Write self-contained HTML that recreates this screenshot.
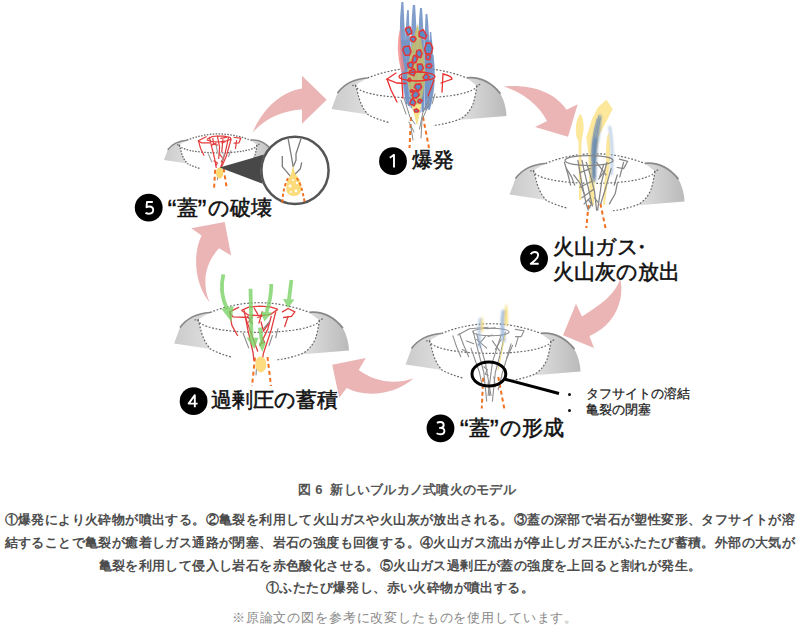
<!DOCTYPE html>
<html lang="ja"><head><meta charset="utf-8">
<style>
html,body{margin:0;padding:0;background:#fff;width:800px;height:626px;overflow:hidden;}
body{position:relative;font-family:"Liberation Sans",sans-serif;}
svg{position:absolute;left:0;top:0;}
.t{position:absolute;white-space:nowrap;}
#cap{left:7px;width:800px;text-align:center;top:481px;font-size:13px;font-weight:bold;color:#555;letter-spacing:0.25px;}
.p{left:0;width:800px;text-align:center;font-size:13px;font-weight:bold;color:#4d4d4d;letter-spacing:0.4px;}
#note{left:5px;width:800px;text-align:center;top:609px;font-size:13px;color:#888;letter-spacing:0.85px;}
.lab{font-size:21px;color:#111;line-height:25px;-webkit-text-stroke:0.55px #111;}
.qa,.qb{display:inline-block;height:25px;vertical-align:top;font-size:27px;line-height:31px;-webkit-text-stroke:0.3px #111;}.qa{width:14.5px;text-align:right;}.qb{width:10px;text-align:left;}
.num{position:absolute;width:27px;height:27px;border-radius:50%;background:#000;color:#fff;font-size:17px;line-height:27px;text-align:center;}
.bul{font-size:13px;color:#1a1a1a;line-height:16px;-webkit-text-stroke:0.25px #1a1a1a;}
</style></head><body>
<svg width="800" height="470" viewBox="0 0 800 470">
<defs>
<filter id="bl" x="-50%" y="-20%" width="200%" height="140%"><feGaussianBlur stdDeviation="0.8"/></filter>
<linearGradient id="gl" x1="0" x2="1" y1="0" y2="0">
<stop offset="0" stop-color="#cbcbcb"/><stop offset="1" stop-color="#dedede"/></linearGradient>
<linearGradient id="gr" x1="0" x2="1" y1="0" y2="0">
<stop offset="0" stop-color="#e2e2e2"/><stop offset="1" stop-color="#bababa"/></linearGradient>
<g id="vol">
<path d="M10.6,63 L16.5,47 C22,39.5 32,33 46.5,32 L34.5,39 Q36.5,46 38,52 Q41,62 47,68.5 Z" fill="url(#gl)"/>
<path d="M16.5,47 C22,39.5 32,33 46.5,32" fill="none" stroke="#888" style="stroke-width:var(--rw,1.7)"/>
<path d="M145.8,31.9 Q165,30 179.4,47.6 Q185,58 185.5,70 L136.5,74 Q147,70 152,58 Q154.5,50 155.9,39.7 Z" fill="url(#gr)"/>
<path d="M145.8,31.9 Q165,30 179.4,47.6" fill="none" stroke="#888" style="stroke-width:var(--rw,1.7)"/>
<g fill="none" stroke="#666" style="stroke-width:var(--dw,1.2);stroke-dasharray:var(--da,1.8 1.7)">
<path d="M46.5,32 Q95,12.5 145.8,31.9"/>
<path d="M31,39.5 L34.5,39 A60.7,12.5 0 0 0 155.9,39.7 L160,38"/>
<path d="M34.5,39 Q36.5,46 38,52 Q41,62 47,68.5 Q56,73.5 68,76.5"/>
<path d="M155.9,39.7 Q154.5,50 152,58 Q147,70 136.5,74 Q125,78 112,79.5"/>
</g>
</g>
</defs>
<!-- arrows -->
<g fill="#ebb5b6">
<path d="M252.5,132.7 C262,110 280,92 302,88.5 L302,75.7 L326.7,99.7 L302,123.7 L302,109.5 C285,110 265,118 252.5,132.7 Z"/>
<path d="M503.5,86.5 C530,84 555,92 566.5,109.7 L577.7,104.2 L568,136.7 L535,127 L547,121 C538,104 522,92 503.5,86.5 Z"/>
<path d="M620.2,279 C625,300 615,325 589.5,336 L594,348 L563,335.2 L576,303.7 L582,316.5 C600,305 615,295 620.2,279 Z"/>
<path d="M413.5,378.2 C395,385 375,382 358.7,370 L365.8,358 L332.2,364.7 L339.2,397.7 L346.7,388 C365,398 395,395 413.5,378.2 Z"/>
<path d="M209.7,302.6 C195,285 192,255 201.6,235.5 L191.2,228.3 L224.7,222 L231.1,255.5 L219.1,248.3 C206,262 201,282 209.7,302.6 Z"/>
</g>
<!-- volcanoes -->
<use href="#vol" transform="translate(321,46)"/>
<use href="#vol" transform="translate(499,131.5)"/>
<use href="#vol" transform="translate(395,301.5)"/>
<use href="#vol" transform="translate(163.5,280.5)"/>
<use href="#vol" transform="translate(157.2,119.7) scale(0.64)" style="--dw:2;--da:2.4 2.2;--rw:2.4"/>
<!-- conduits -->
<g fill="none" stroke="#f07020" stroke-width="2" stroke-dasharray="4 3">
<path d="M411,117 L409.5,148"/><path d="M423,117 L429,148"/>
<path d="M588.5,205 L586.3,228"/><path d="M600.4,203.7 L605.5,228"/>
<path d="M483.2,377.7 L481.75,408.5"/><path d="M498.25,377 L504.25,408.5"/>
<path d="M255,357.7 L252,386"/><path d="M267.5,357 L271,386"/>
<path d="M215.2,169.7 L214,189.3"/><path d="M223.6,168.5 L226.9,189.3"/>
</g>
<!-- V1 plume -->
<g>

<path d="M401,40 Q398,70 406,104 L418,114 L430,108 Q436,75 432,40 Z" fill="#7296c8" opacity="0.55"/>
<g fill="#6a8dc2" opacity="0.85">
<path d="M401.4,2.0 L403.4,2.0 Q405.4,45.0 407.8,104.0 L406.2,104.0 Q396.6,45.0 401.4,2.0 Z"/>
<path d="M407.2,10.0 L408.8,10.0 Q409.9,45.0 412.8,108.0 L411.2,108.0 Q403.1,45.0 407.2,10.0 Z"/>
<path d="M412.9,5.0 L415.1,5.0 Q417.7,45.0 418.8,112.0 L417.2,112.0 Q408.3,45.0 412.9,5.0 Z"/>
<path d="M420.0,8.0 L422.0,8.0 Q424.9,45.0 423.8,112.0 L422.2,112.0 Q416.1,45.0 420.0,8.0 Z"/>
<path d="M425.6,14.0 L427.4,14.0 Q431.4,50.0 426.8,110.0 L425.2,110.0 Q423.6,50.0 425.6,14.0 Z"/>
<path d="M429.8,32.0 L431.2,32.0 Q435.1,65.0 428.8,108.0 L427.2,108.0 Q428.9,65.0 429.8,32.0 Z"/>
<path d="M432.5,55.0 L433.5,55.0 Q437.3,85.0 429.8,110.0 L428.2,110.0 Q432.7,85.0 432.5,55.0 Z"/>
<path d="M404.4,30.0 L405.6,30.0 Q406.6,70.0 409.8,106.0 L408.2,106.0 Q401.4,70.0 404.4,30.0 Z"/>
</g>
<path d="M417.5,24 Q408,55 407,80 L417,125 L425.5,80 Q425,50 417.5,24 Z" fill="#c3bd6e" opacity="0.88"/>
<path d="M400.5,27 Q394.5,48 401.5,72 L405,71 Q400.5,48 400.5,27Z" fill="#f28a8a" opacity="0.8"/>
<path d="M411.5,105 L417,125 L421.5,104 Z" fill="#f7e48a"/>
<path d="M413,80.5 L421,81" stroke="#ee8a30" stroke-width="1.3"/>
<g fill="#5b8cc8" stroke="#e0383a" stroke-width="1.6" stroke-linejoin="round">
<path d="M411.8,32.0 L411.4,33.8 L407.7,34.9 L405.5,29.7 L406.1,28.0 L409.8,26.9 Z"/>
<path d="M426.7,35.7 L425.2,38.9 L419.1,36.2 L419.2,31.9 L423.1,29.6 Z"/>
<path d="M416.0,38.9 L414.4,41.7 L411.4,41.2 L410.3,39.0 L410.8,37.0 L414.6,36.6 Z"/>
<path d="M410.9,51.6 L409.4,55.2 L405.1,55.3 L402.7,49.8 L404.2,46.8 L409.2,46.0 Z"/>
<path d="M432.7,48.1 L431.1,53.6 L425.8,53.7 L424.6,49.2 L426.5,42.9 L430.6,43.3 Z"/>
<path d="M422.0,53.3 L420.8,57.5 L418.6,57.3 L416.2,54.4 L416.9,50.8 L420.3,49.8 Z"/>
<path d="M417.5,58.7 L415.7,62.6 L413.4,62.6 L412.2,60.3 L413.8,55.8 L415.7,55.6 Z"/>
<path d="M430.4,56.2 L429.4,59.8 L426.5,59.3 L425.9,57.4 L426.7,54.4 L429.8,55.2 Z"/>
<path d="M413.3,64.1 L412.2,68.0 L408.5,67.5 L407.6,63.7 L411.4,61.9 Z"/>
<path d="M423.5,68.0 L420.8,71.7 L417.7,71.1 L417.4,64.2 L421.7,64.0 Z"/>
<path d="M431.9,65.8 L430.5,67.8 L426.8,67.5 L426.1,66.6 L426.9,64.3 L430.7,63.8 Z"/>
<path d="M415.6,71.5 L413.9,75.8 L409.1,73.6 L409.9,70.7 L413.7,68.7 Z"/>
<path d="M429.1,77.0 L428.4,79.0 L424.7,80.0 L423.0,77.6 L425.3,74.1 L427.0,74.2 Z"/>
<path d="M411.1,80.3 L409.8,81.5 L407.9,80.7 L408.5,78.7 L409.7,78.2 Z"/>
<path d="M421.6,87.3 L419.2,90.6 L417.0,90.1 L414.2,87.3 L415.7,84.4 L420.5,83.9 Z"/>
<path d="M413.3,91.0 L412.6,92.3 L411.0,92.1 L410.4,91.2 L411.0,90.1 L412.7,89.8 Z"/>
<path d="M419.4,94.8 L416.5,97.9 L413.3,97.6 L412.0,95.5 L414.6,90.8 L417.7,91.8 Z"/>
<path d="M415.5,102.3 L414.3,105.7 L409.9,104.1 L410.7,100.3 L412.7,98.6 Z"/>
<path d="M422.2,100.5 L420.2,102.9 L417.9,101.9 L418.5,99.7 L420.6,99.3 Z"/>
<path d="M418.9,110.9 L417.9,112.0 L414.8,112.0 L414.2,109.7 L416.5,108.9 Z"/>
</g>
<g fill="none" stroke="#e8302f" stroke-width="1.3" stroke-linecap="round">
<ellipse cx="417" cy="76.5" rx="18" ry="4.5"/>
<path d="M396,73 L387,79 L397,83 L406,83.5"/>
<path d="M387,79 L391,90 L397,102"/>
<path d="M401.5,76 L403,98"/>
<path d="M434,80 L428,96"/>
<path d="M443,74 Q452,76 452,79 L441,83"/>
<path d="M443,74 L442,92"/>
</g>
<g fill="none" stroke="#8a8a8a" stroke-width="1" stroke-linecap="round">
<path d="M401,100 L406,114"/><path d="M404,98 L410,117 L415,124"/>
<path d="M409,122 L414,132"/><path d="M411,128 L413,140"/>
<path d="M430,98 L423,112 L419.5,129"/><path d="M429,104 L422,120 L421,138"/>
<path d="M435,94 L432,104"/>
</g>
</g>
<!-- V2 cracks + plume -->
<g fill="#fce79b">
<path d="M580.5,113.7 Q584,118 583.6,130 Q582.5,136 581.5,142 L581.5,200 L579,200 L578.5,142 Q575.5,136 575.8,130 Q576,118 580.5,113.7 Z"/>
<path d="M606.4,99.8 L612.7,108.9 L598.8,136.2 L596,160 L594,205 L590,205 L588.2,152.5 L586.3,137.2 L592,119 L597.8,107.5 Z"/>
<path d="M608.4,131.9 Q611,140 610,160 L605,205 L603,205 L606,160 Q605.5,140 608.4,131.9 Z"/>
</g>
<g filter="url(#bl)">
<path d="M599.5,114 Q594,128 591.5,145 Q590.5,160 592,182 L596,182 Q596,160 598,145 Q601,128 601.5,116 Z" fill="#7592b5" opacity="0.75"/>
<path d="M594,138 Q591.5,155 592.5,178 L596,178 Q595.5,155 597,138 Z" fill="#5a80b3" opacity="0.8"/>
<path d="M609.5,126 Q613.5,145 611.5,175" fill="none" stroke="#9fb8da" stroke-width="2.4" opacity="0.75"/>
</g>
<g fill="none" stroke="#6f8fb3" stroke-width="0.9" opacity="0.7" stroke-linecap="round">
<path d="M598.8,116 Q593,135 593,155"/><path d="M600.5,118 Q595.5,135 595,158"/><path d="M597,119 Q591.5,138 592,160"/>
</g>
<g fill="none" stroke="#858585" stroke-width="1.25" stroke-linecap="round" stroke-linejoin="round">
<ellipse cx="589" cy="160.5" rx="24" ry="5"/>
<path d="M564.4,162.3 L567.5,172.7 L570.6,185.2"/>
<path d="M566.4,168.6 L571.6,176.9 L574.7,185.2"/>
<path d="M577.9,160.3 L581.0,179.0 L586.2,203.9 L588.2,210.1"/>
<path d="M582.0,160.3 L584.1,170.6 L588.2,187.3 L592.4,206.0"/>
<path d="M586.2,162.3 L590.3,174.8 L594.5,191.4 L596.6,210.1"/>
<path d="M579.9,187.3 L592.4,181.0"/>
<path d="M582.0,197.7 L593.4,189.4"/>
<path d="M584.1,203.9 L590.3,197.7"/>
<path d="M579.9,172.7 L590.3,168.6"/>
<path d="M606.9,162.3 L601.8,181.0 L597.6,210.1"/>
<path d="M611.1,168.6 L605.9,187.3 L600.7,203.9"/>
<path d="M603.8,164.4 L599.7,176.9"/>
<path d="M596.6,162.3 L605.9,174.8"/>
<path d="M598.6,179.0 L604.9,170.6"/>
<path d="M619.4,159.2 L627.7,161.3 L623.6,168.6 L617.3,167.5"/>
<path d="M623.6,162.3 L619.8,176.9"/>
<path d="M617.3,174.8 L614.2,185.2"/>
<path d="M617.3,183.1 L615.3,193.5 L609.4,203.9"/>
<path d="M573.7,174.8 L579.9,183.1 L584.1,193.5"/>
<path d="M588.2,199.7 L591.4,203.9 L589.3,208.1"/>
<path d="M594.5,197.7 L597.6,201.8"/>
</g>
<!-- V3 cracks + flames -->
<g fill="none" stroke="#8e8e8e" stroke-width="1.1" stroke-linecap="round" stroke-linejoin="round">
<ellipse cx="491" cy="332" rx="18" ry="3.8"/>
<path d="M452.9,335.8 L456.5,346.6 L460.8,356.7"/>
<path d="M459.4,333.7 L463.7,345.2 L468.7,356.7"/>
<path d="M457.9,335.1 L469.4,328.7 L488.1,327.2"/>
<path d="M473.0,330.8 L478.1,350.9 L483.8,372.5 L486.7,401.3"/>
<path d="M476.6,333.7 L480.9,348.1 L485.3,362.4 L491.0,395.5"/>
<path d="M505.4,332.3 L501.1,350.9 L495.3,372.5 L492.4,401.3"/>
<path d="M501.1,335.1 L496.8,348.1 L492.4,362.4 L488.1,395.5"/>
<path d="M470.9,348.1 L479.5,372.5 L482.4,386.9"/>
<path d="M511.1,343.8 L502.5,372.5 L498.2,389.8"/>
<path d="M476.6,339.4 L486.7,348.1"/>
<path d="M478.1,345.2 L485.3,336.6"/>
<path d="M492.4,340.9 L499.6,350.9"/>
<path d="M495.3,349.5 L501.1,339.4"/>
<path d="M515.4,329.4 L524.1,330.8 L521.2,336.6 L515.4,336.6"/>
<path d="M518.3,336.6 L515.4,346.6"/>
<path d="M512.6,345.2 L506.8,358.1"/>
<path d="M486.7,328.7 L495.3,327.9"/>
<path d="M488.1,336.6 L492.4,335.1"/>
<path d="M483.8,366.8 L487.4,369.6 L485.3,373.9 L488.1,375.4"/>
<path d="M493.9,376.8 L495.3,386.9"/>
<path d="M488.1,382.6 L489.6,395.5"/>
<path d="M466.6,340.9 L473.8,343.8"/>
<path d="M462.3,349.5 L468.0,352.4"/>
</g>
<g>
<g filter="url(#bl)">
<path d="M480.5,318 Q478,330 480,348" stroke="#8fb0d8" stroke-width="2.4" fill="none" opacity="0.75"/>
<path d="M482.1,316 Q484,322 482.8,332 L481.2,332 Q480.5,322 482.1,316Z" fill="#f6dc70"/>
<path d="M503.5,310 Q501,325 504,342" stroke="#7fa3d0" stroke-width="3.2" fill="none" opacity="0.75"/>
<path d="M506.1,303 Q508.5,310 507.2,326 L504.8,326 Q504,312 506.1,303Z" fill="#f6dc70"/>
</g>
<path d="M505,335 L498,370" stroke="#efdc85" stroke-width="1" fill="none"/>
</g>
<ellipse cx="488.9" cy="374" rx="16.9" ry="12" fill="none" stroke="#000" stroke-width="3"/>
<path d="M505,379.2 L559,393.5" stroke="#000" stroke-width="3"/>
<!-- V4 -->
<g fill="none" stroke="#e23c3c" stroke-width="1.3" stroke-linecap="round" stroke-linejoin="round">
<path d="M242.0,310.2 L248.7,307.1 L260.0,306.2 L270.1,306.8 L277.4,309.1"/>
<path d="M242.0,310.7 L248.7,315.2 L260.0,315.5 L270.1,314.7 L277.4,309.6"/>
<path d="M238.6,307.4 L229.6,311.9 L233.0,316.9 L248.7,317.5"/>
<path d="M229.6,311.9 L231.9,325.4 L237.5,335.5"/>
<path d="M244.2,310.7 L247.6,328.7 L253.2,353.5 L253.8,360.2"/>
<path d="M245.4,317.5 L249.9,329.9 L257.7,351.2"/>
<path d="M275.7,311.9 L271.2,329.9 L263.4,353.5 L262.2,360.2"/>
<path d="M271.2,316.4 L267.9,328.7 L260.0,345.6"/>
<path d="M247.6,316.4 L252.1,323.1"/>
<path d="M248.7,322.0 L253.2,315.2"/>
<path d="M262.2,311.9 L258.9,323.1"/>
<path d="M264.5,315.2 L257.7,317.5"/>
<path d="M261.1,322.0 L263.4,331.0 L269.0,323.1"/>
<path d="M282.5,311.9 L288.1,308.5 L294.9,311.9 L291.5,316.4 L283.6,317.5"/>
<path d="M288.1,316.4 L284.7,326.5"/>
<path d="M262.2,337.7 L264.5,342.2 L260.0,344.5"/>
<path d="M254.4,308.5 L257.7,314.1"/>
</g>
<g fill="none" stroke="#8a8a8a" stroke-width="1.1" stroke-linecap="round">
<path d="M243.1,333.2 L248.7,347.9"/>
<path d="M272.4,335.5 L269.0,345.6"/>
<path d="M278.0,328.7 L275.7,337.7"/>
<path d="M263.4,328.7 L270.1,320.9"/>
<path d="M248.7,317.5 L252.1,324.2"/>
<path d="M257,360 L256,375"/>
</g>
<ellipse cx="260.8" cy="364.4" rx="5.5" ry="8" fill="#fcdc7e"/>
<g stroke="#78d263" stroke-width="3.8" fill="none" opacity="0.78" stroke-linecap="butt">
<path d="M223.4,274.4 Q219,292 227,309"/>
<path d="M250.5,288.7 L251.5,338"/>
<path d="M271.3,284 Q271,300 266.5,312"/>
<path d="M259.9,327.6 L262.2,343"/>
<path d="M291.4,280 L289,299.5"/>
</g>
<g fill="#78d263" opacity="0.78">
<path d="M221.5,309 L233.5,306 L231.5,322 Z"/>
<path d="M246.5,337.7 L258.5,337.7 L254.4,349 Z"/>
<path d="M260.5,311.5 L272,312.5 L264.5,321.5 Z"/>
<path d="M258.5,342.5 L266,342.5 L262.2,352 Z"/>
<path d="M283,299 L294.5,299.5 L288.1,308 Z"/>
</g>
<!-- V5 -->
<g fill="none" stroke="#e23c3c" stroke-width="1.2" stroke-linecap="round" stroke-linejoin="round">
<path d="M207.3,139.0 L211.8,136.7 L217.4,136.0 L224.1,136.2 L230.2,137.5"/>
<path d="M207.3,140.1 L211.8,141.5 L218.5,142.0 L225.2,141.2 L231.0,139.3 L230.2,137.5"/>
<path d="M206.2,136.7 L198.4,140.7 L201.7,142.9 L209.5,142.9"/>
<path d="M198.4,140.7 L200.6,148.5 L203.9,155.2"/>
<path d="M209.5,137.3 L211.8,147.4 L214.6,158.5 L216.2,167.5"/>
<path d="M212.9,138.4 L213.4,144.0 L217.4,145.1"/>
<path d="M211.8,145.1 L216.2,142.9"/>
<path d="M217.4,136.2 L219.6,147.4 L218.7,158.5"/>
<path d="M220.7,138.4 L226.3,137.3"/>
<path d="M221.8,142.9 L225.2,141.8"/>
<path d="M222.9,139.5 L221.8,151.8"/>
<path d="M228.5,137.3 L225.2,152.9 L220.7,167.5"/>
<path d="M231.0,139.5 L226.3,156.3 L221.8,166.4"/>
<path d="M234.1,137.5 L240.8,138.2 L238.8,142.9 L234.1,143.1"/>
<path d="M236.6,140.7 L235.5,148.5"/>
<path d="M214.0,160.8 L217.4,163.0 L216.0,165.5"/>
<path d="M219.6,154.1 L222.9,158.5 L221.3,161.9"/>
</g>
<g fill="none" stroke="#9a9a9a" stroke-width="1.1" stroke-linecap="round">
<path d="M208.4,154.1 L211.8,161.9"/>
<path d="M224.3,153.8 L222.1,160.8"/>
<path d="M231.0,150.7 L228.5,156.5"/>
<path d="M216.2,145.1 L217.4,151.8"/>
<path d="M217.9,174.2 L217.4,179.8"/>
</g>
<path d="M219.6,167.5 L263.8,154.6 Q258,170 262.7,183.7 Z" fill="#484848"/>
<ellipse cx="219.6" cy="173.1" rx="3.6" ry="5.5" fill="#fbd870"/>
<circle cx="295" cy="170.3" r="33.6" fill="#fff" stroke="#555" stroke-width="2.5"/>
<g fill="none" stroke="#7a7a7a" stroke-width="1.3" stroke-linejoin="round">
<path d="M288.1,138.7 L291.7,158 L293.1,166.7"/>
<path d="M301,138.7 L296,153.8 L296,160.2 L293,167"/>
<path d="M282.3,155.9 L282.3,166.7 L291,176.8"/>
<path d="M301.75,162.4 L300.3,168.8 L294.6,174.6"/>
</g>
<path d="M293,165 L290.5,178 L296,178 Z" fill="#f6dc70"/>
<path d="M293,172 Q301.5,179 301.5,188 Q301,196 293.8,196 Q286.3,196 286.3,188 Q286.5,179 293,172 Z" fill="#fcdb7a"/>
<g fill="#fff"><circle cx="290" cy="186" r="1.5"/><circle cx="297" cy="183" r="1.2"/><circle cx="296" cy="191" r="1.4"/><circle cx="291" cy="192" r="1"/><circle cx="293" cy="180" r="1"/></g>
<g fill="none" stroke="#f07020" stroke-width="1.9" stroke-dasharray="3.2 2.3">
<path d="M288,178.2 Q283,188 282.3,202.6"/><path d="M296.7,178 Q302,185 304.6,202.6"/>
</g>
<!-- number badges -->
<circle cx="393.0" cy="161.2" r="13.9" fill="#000"/>
<path d="M0.3,3.2 L4.5,0.4 L4.5,13" transform="translate(389.5,154.5)" fill="none" stroke="#fff" stroke-width="1.9" stroke-linejoin="round"/>
<circle cx="534.1" cy="258.5" r="13.9" fill="#000"/>
<path d="M0.4,2.6 Q1.8,0.3 4.3,0.3 Q7.9,0.3 7.9,3.5 Q7.9,6 4.8,8.6 L0.6,12.1 L8.5,12.1" transform="translate(530.2,251.7)" fill="none" stroke="#fff" stroke-width="1.9" stroke-linejoin="round"/>
<circle cx="440.5" cy="428.3" r="13.9" fill="#000"/>
<path d="M0.6,1.1 Q2.1,0.3 4,0.3 Q7.4,0.3 7.4,3.2 Q7.4,6.1 3.9,6.2 L2.8,6.2 M3.9,6.2 Q8.1,6.3 8.1,9.2 Q8.1,12.5 4,12.5 Q2,12.5 0.3,11.5" transform="translate(436.3,421.7)" fill="none" stroke="#fff" stroke-width="1.9" stroke-linejoin="round"/>
<circle cx="193.6" cy="401.2" r="13.9" fill="#000"/>
<path d="M6.8,12.8 L6.8,0.6 L0.6,9.1 L9.6,9.1" transform="translate(188.0,394.5)" fill="none" stroke="#fff" stroke-width="1.9" stroke-linejoin="round"/>
<circle cx="148.7" cy="207.7" r="13.9" fill="#000"/>
<path d="M7.8,0.8 L2,0.8 L1.5,6 Q2.6,5.3 4.3,5.3 Q8.2,5.3 8.2,8.9 Q8.2,12.5 4.1,12.5 Q2,12.5 0.5,11.7" transform="translate(145.0,201.2)" fill="none" stroke="#fff" stroke-width="1.9" stroke-linejoin="round"/>
</svg>
<div class="t" id="cap">図 6&nbsp; 新しいブルカノ式噴火のモデル</div>
<div class="t p" style="top:511px">①爆発により火砕物が噴出する。②亀裂を利用して火山ガスや火山灰が放出される。③蓋の深部で岩石が塑性変形、タフサイトが溶</div>
<div class="t p" style="top:534px">結することで亀裂が癒着しガス通路が閉塞、岩石の強度も回復する。④火山ガス流出が停止しガス圧がふたたび蓄積。外部の大気が</div>
<div class="t p" style="top:557px">亀裂を利用して侵入し岩石を赤色酸化させる。⑤火山ガス過剰圧が蓋の強度を上回ると割れが発生。</div>
<div class="t p" style="top:579px">①ふたたび爆発し、赤い火砕物が噴出する。</div>
<div class="t" id="note">※原論文の図を参考に改変したものを使用しています。</div>

<div class="t lab" style="left:412px;top:147px">爆発</div>
<div class="t lab" style="left:553px;top:234px">火山ガス<span style="margin-left:-8px">・</span><br>火山灰の放出</div>
<div class="t lab" style="left:454.3px;top:414.5px"><span class="qa">“</span>蓋<span class="qb">”</span>の形成</div>
<div style="position:absolute;left:567.5px;top:393px;width:3px;height:3px;border-radius:50%;background:#111"></div><div style="position:absolute;left:567.5px;top:408.5px;width:3px;height:3px;border-radius:50%;background:#111"></div>
<div class="t bul" style="left:586px;top:386px">タフサイトの溶結<br>亀裂の閉塞</div>
<div class="t lab" style="left:211px;top:387px">過剰圧の蓄積</div>
<div class="t lab" style="left:162px;top:195px"><span class="qa">“</span>蓋<span class="qb">”</span>の破壊</div>
</body></html>
